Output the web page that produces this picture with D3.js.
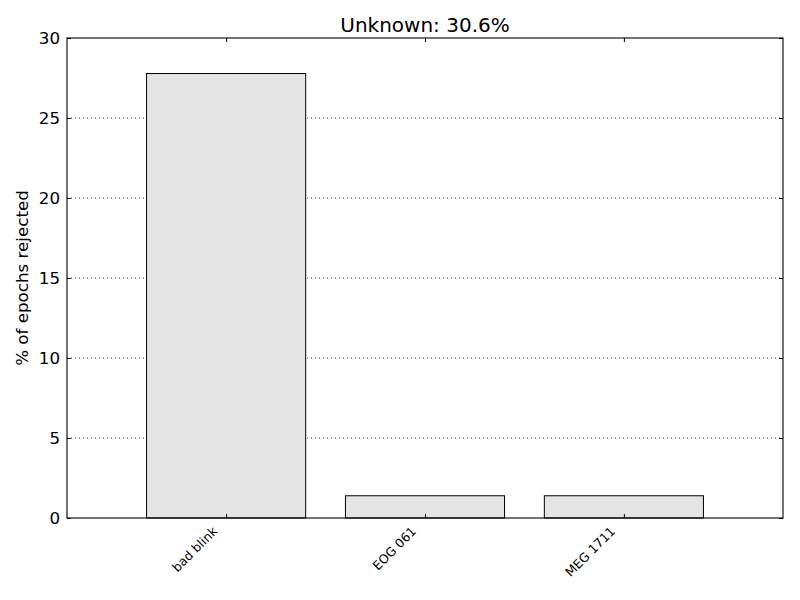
<!DOCTYPE html>
<html>
<head>
<meta charset="utf-8">
<script src="https://cdn.jsdelivr.net/npm/d3@7"></script>
<style>
  body { margin: 0; background: #fff; }
  svg { font-family: "DejaVu Sans", sans-serif; }
</style>
</head>
<body>
<svg width="800" height="600"></svg>
<script>
const categories = ["bad blink", "EOG 061", "MEG 1711"];
const values = [27.78, 1.39, 1.39];
const yTicks = [0, 5, 10, 15, 20, 25, 30];
const titleText = "Unknown: 30.6%";

const margin = { left: 67, right: 17, top: 38, bottom: 82 };
const width = 800, height = 600;
const svg = d3.select("svg");

// bars sit at 0,1,2 with width 0.8, x limits -0.8..2.8 like the original
const x = d3.scaleLinear()
    .domain([-0.8, categories.length - 1 + 0.8])
    .range([margin.left, width - margin.right]);
const y = d3.scaleLinear()
    .domain([0, 30])
    .range([height - margin.bottom, margin.top]);

// grid
svg.append("g")
    .selectAll("line")
    .data(yTicks.slice(1, -1))
    .join("line")
    .attr("x1", margin.left)
    .attr("x2", width - margin.right)
    .attr("y1", d => y(d))
    .attr("y2", d => y(d))
    .attr("stroke", "#000")
    .attr("stroke-width", 0.8)
    .attr("stroke-dasharray", "1,3");

// bars
svg.append("g")
    .selectAll("rect")
    .data(values)
    .join("rect")
    .attr("x", (d, i) => x(i - 0.4))
    .attr("width", x(0.4) - x(-0.4))
    .attr("y", d => y(d))
    .attr("height", d => y(0) - y(d))
    .attr("fill", "#e4e4e4")
    .attr("stroke", "#000")
    .attr("stroke-width", 1);

// axes with inward ticks
const yLeft = svg.append("g")
    .attr("transform", `translate(${margin.left},0)`)
    .call(d3.axisRight(y).tickValues(yTicks).tickSize(4).tickFormat(""));
yLeft.select(".domain").remove();

const yRight = svg.append("g")
    .attr("transform", `translate(${width - margin.right},0)`)
    .call(d3.axisLeft(y).tickValues(yTicks).tickSize(4).tickFormat(""));
yRight.select(".domain").remove();

svg.append("g")
    .selectAll("text")
    .data(yTicks)
    .join("text")
    .attr("x", margin.left - 7)
    .attr("y", d => y(d))
    .attr("dy", "0.36em")
    .attr("text-anchor", "end")
    .attr("font-size", 16.7)
    .text(d => d);

const xBottom = svg.append("g")
    .attr("transform", `translate(0,${height - margin.bottom})`)
    .call(d3.axisTop(x).tickValues(d3.range(categories.length)).tickSize(4).tickFormat(""));
xBottom.select(".domain").remove();

const xTop = svg.append("g")
    .attr("transform", `translate(0,${margin.top})`)
    .call(d3.axisBottom(x).tickValues(d3.range(categories.length)).tickSize(4).tickFormat(""));
xTop.select(".domain").remove();

svg.append("g")
    .selectAll("text")
    .data(categories)
    .join("text")
    .attr("text-anchor", "end")
    .attr("font-size", 12.5)
    .attr("transform", (d, i) => `translate(${x(i) - 8},${height - margin.bottom + 14}) rotate(-45)`)
    .text(d => d);

// frame
svg.append("rect")
    .attr("x", margin.left)
    .attr("y", margin.top)
    .attr("width", width - margin.left - margin.right)
    .attr("height", height - margin.top - margin.bottom)
    .attr("fill", "none")
    .attr("stroke", "#000")
    .attr("stroke-width", 1.1);

svg.append("text")
    .attr("x", (margin.left + width - margin.right) / 2)
    .attr("y", 32)
    .attr("text-anchor", "middle")
    .attr("font-size", 20)
    .text(titleText);

svg.append("text")
    .attr("transform", `translate(28,${(margin.top + height - margin.bottom) / 2}) rotate(-90)`)
    .attr("text-anchor", "middle")
    .attr("font-size", 16.7)
    .text("% of epochs rejected");
</script>
</body>
</html>
